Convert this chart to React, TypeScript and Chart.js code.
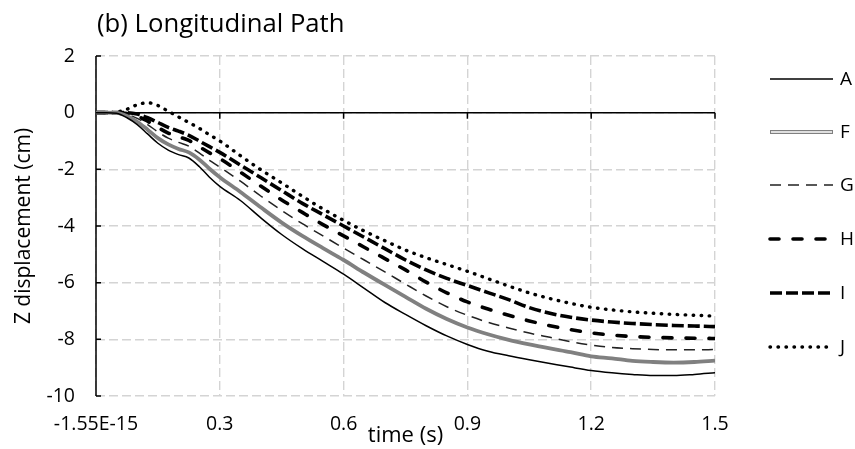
import React, { useEffect, useRef } from "react";
import { Chart, registerables } from "chart.js";

Chart.register(...registerables);

const times = [0, 0.025, 0.05, 0.075, 0.1, 0.125, 0.15, 0.175, 0.2, 0.225, 0.25, 0.275, 0.3, 0.35, 0.4, 0.45, 0.5, 0.55, 0.6, 0.65, 0.7, 0.75, 0.8, 0.85, 0.9, 0.95, 1.0, 1.05, 1.1, 1.15, 1.2, 1.25, 1.3, 1.35, 1.4, 1.45, 1.5];

const seriesA = [0, 0, -0.02, -0.18, -0.42, -0.75, -1.08, -1.32, -1.48, -1.6, -1.9, -2.28, -2.6, -3.1, -3.72, -4.3, -4.8, -5.25, -5.7, -6.2, -6.7, -7.12, -7.52, -7.88, -8.18, -8.42, -8.58, -8.72, -8.85, -8.98, -9.1, -9.18, -9.24, -9.28, -9.28, -9.24, -9.18];
const seriesF = [0, 0, -0.01, -0.12, -0.32, -0.6, -0.9, -1.12, -1.28, -1.4, -1.65, -1.98, -2.28, -2.8, -3.35, -3.88, -4.35, -4.78, -5.2, -5.65, -6.08, -6.5, -6.92, -7.28, -7.58, -7.82, -8.02, -8.18, -8.32, -8.45, -8.6, -8.67, -8.76, -8.8, -8.82, -8.8, -8.75];
const seriesG = [0, 0, 0, -0.06, -0.2, -0.42, -0.68, -0.9, -1.05, -1.18, -1.42, -1.68, -1.92, -2.42, -2.95, -3.45, -3.92, -4.35, -4.78, -5.2, -5.62, -6.05, -6.47, -6.85, -7.15, -7.4, -7.6, -7.78, -7.93, -8.08, -8.2, -8.29, -8.33, -8.36, -8.37, -8.37, -8.36];
const seriesH = [0, 0, 0, -0.03, -0.12, -0.3, -0.52, -0.72, -0.85, -0.98, -1.2, -1.42, -1.62, -2.1, -2.6, -3.08, -3.52, -3.95, -4.35, -4.75, -5.15, -5.55, -5.98, -6.36, -6.68, -6.93, -7.15, -7.35, -7.52, -7.66, -7.77, -7.85, -7.9, -7.93, -7.95, -7.96, -7.97];
const seriesI = [0, 0, 0, 0, -0.05, -0.18, -0.35, -0.52, -0.65, -0.8, -1.0, -1.2, -1.4, -1.85, -2.3, -2.75, -3.2, -3.6, -4.0, -4.4, -4.8, -5.2, -5.55, -5.85, -6.1, -6.35, -6.6, -6.88, -7.08, -7.22, -7.32, -7.39, -7.44, -7.48, -7.51, -7.53, -7.55];
const seriesJ = [0, 0, 0.02, 0.12, 0.28, 0.35, 0.25, 0.05, -0.15, -0.35, -0.55, -0.78, -1.0, -1.52, -2.02, -2.48, -2.95, -3.4, -3.8, -4.18, -4.52, -4.85, -5.12, -5.36, -5.6, -5.86, -6.12, -6.36, -6.56, -6.73, -6.87, -6.96, -7.03, -7.08, -7.12, -7.15, -7.18];

const seriesNames = ["A", "F", "G", "H", "I", "J"];
const seriesValues = [seriesA, seriesF, seriesG, seriesH, seriesI, seriesJ];

const xTickValues = [0, 0.3, 0.6, 0.9, 1.2, 1.5];
const xTickLabels = ["-1.55E-15", "0.3", "0.6", "0.9", "1.2", "1.5"];
const yTickValues = [2, 0, -2, -4, -6, -8, -10];

const chartTitle = "(b) Longitudinal Path";
const xTitle = "time (s)";
const yTitle = "Z displacement (cm)";

const FONT = '"Open Sans", sans-serif';

type Style = {
  color: string;
  width: number;
  dash: number[];
  cap: CanvasLineCap;
  inner?: { color: string; width: number };
};

const styles: Style[] = [
  { color: "#000000", width: 1.5, dash: [], cap: "butt" },
  { color: "#808080", width: 3.8, dash: [], cap: "butt", inner: { color: "#ffffff", width: 1.6 } },
  { color: "#222222", width: 1.5, dash: [11, 7], cap: "butt" },
  { color: "#000000", width: 3.6, dash: [9, 14], cap: "round" },
  { color: "#000000", width: 3.6, dash: [12, 4], cap: "butt" },
  { color: "#000000", width: 3.4, dash: [0.5, 7.5], cap: "round" },
];

const legendY = [79, 132, 185, 239, 293, 347];

function buildDatasets() {
  const ds: any[] = [];
  seriesNames.forEach((name, i) => {
    const st = styles[i];
    const data = times.map((t, k) => ({ x: t, y: seriesValues[i][k] }));
    ds.push({
      label: name,
      data,
      borderColor: st.color,
      borderWidth: st.width,
      borderDash: st.dash,
      borderCapStyle: st.cap,
      borderJoinStyle: "round",
      pointRadius: 0,
      fill: false,
      cubicInterpolationMode: "monotone",
    });
    if (st.inner) {
      ds.push({
        label: name + "_inner",
        data,
        borderColor: st.inner.color,
        borderWidth: st.inner.width,
        borderJoinStyle: "round",
        pointRadius: 0,
        fill: false,
        cubicInterpolationMode: "monotone",
      });
    }
  });
  return ds;
}

const decorPlugin = {
  id: "decor",
  beforeDatasetsDraw(chart: any) {
    const { ctx, chartArea, scales } = chart;
    const xs = scales.x;
    const ys = scales.y;
    const y0 = ys.getPixelForValue(0);
    ctx.save();
    ctx.strokeStyle = "#000";
    ctx.lineWidth = 1.5;
    ctx.setLineDash([]);
    ctx.beginPath();
    ctx.moveTo(chartArea.left, y0);
    ctx.lineTo(chartArea.right, y0);
    xTickValues.forEach((v) => {
      const px = xs.getPixelForValue(v);
      ctx.moveTo(px, y0);
      ctx.lineTo(px, y0 + 6);
    });
    ctx.moveTo(chartArea.left, chartArea.top);
    ctx.lineTo(chartArea.left, chartArea.bottom);
    yTickValues.forEach((v) => {
      const py = ys.getPixelForValue(v);
      ctx.moveTo(chartArea.left, py);
      ctx.lineTo(chartArea.left + 5, py);
    });
    ctx.stroke();
    ctx.restore();
  },
  afterDraw(chart: any) {
    const { ctx } = chart;
    ctx.save();
    ctx.fillStyle = "#000";
    ctx.font = `25.7px ${FONT}`;
    ctx.textBaseline = "alphabetic";
    ctx.textAlign = "left";
    ctx.fillText(chartTitle, 97, 32);

    const x1 = 770;
    const x2 = 833;
    seriesNames.forEach((name, i) => {
      const st = styles[i];
      const y = legendY[i];
      ctx.beginPath();
      ctx.strokeStyle = st.color;
      ctx.lineWidth = st.width;
      ctx.lineCap = st.cap;
      ctx.setLineDash(st.dash);
      ctx.moveTo(x1, y);
      ctx.lineTo(x2, y);
      ctx.stroke();
      if (st.inner) {
        ctx.beginPath();
        ctx.strokeStyle = st.inner.color;
        ctx.lineWidth = st.inner.width;
        ctx.setLineDash([]);
        ctx.moveTo(x1 + 1, y);
        ctx.lineTo(x2 - 1, y);
        ctx.stroke();
      }
      ctx.setLineDash([]);
      ctx.fillStyle = "#000";
      ctx.font = `19px ${FONT}`;
      ctx.textBaseline = "middle";
      ctx.fillText(name, 840, y + 1);
    });
    ctx.restore();
  },
};

export default function App() {
  const canvasRef = useRef<HTMLCanvasElement | null>(null);

  useEffect(() => {
    if (!canvasRef.current) return;
    const gridColor = "#d4d4d4";
    const chart = new Chart(canvasRef.current, {
      type: "line",
      data: { datasets: buildDatasets() },
      options: {
        responsive: false,
        maintainAspectRatio: false,
        animation: false,
        devicePixelRatio: 1,
        layout: { padding: { left: 0, top: 56, right: 140, bottom: 0 } },
        plugins: {
          legend: { display: false },
          tooltip: { enabled: false },
          title: { display: false },
        },
        scales: {
          x: {
            type: "linear",
            min: 0,
            max: 1.5,
            afterFit: (scale: any) => {
              scale.height = 53;
            },
            afterBuildTicks: (scale: any) => {
              scale.ticks = xTickValues.map((v) => ({ value: v }));
            },
            grid: { color: gridColor, lineWidth: 1.4, drawTicks: false },
            border: { display: false, dash: [9, 4] },
            ticks: {
              padding: 17,
              maxRotation: 0,
              autoSkip: false,
              color: "#000",
              font: { family: FONT, size: 19.5 },
              callback: (value: any) => {
                const idx = xTickValues.findIndex((v) => Math.abs(v - Number(value)) < 1e-9);
                return idx >= 0 ? xTickLabels[idx] : "";
              },
            },
            title: {
              display: true,
              text: xTitle,
              color: "#000",
              font: { family: FONT, size: 22 },
              padding: { top: 0, bottom: 0 },
            },
          },
          y: {
            type: "linear",
            min: -10,
            max: 2,
            afterFit: (scale: any) => {
              scale.width = 96;
            },
            afterBuildTicks: (scale: any) => {
              scale.ticks = yTickValues.map((v) => ({ value: v }));
            },
            grid: { color: gridColor, lineWidth: 1.4, drawTicks: false },
            border: { display: false, dash: [9, 4] },
            ticks: {
              padding: 21,
              autoSkip: false,
              color: "#000",
              font: { family: FONT, size: 19.5 },
              callback: (value: any) => String(value),
            },
            title: {
              display: true,
              text: yTitle,
              color: "#000",
              font: { family: FONT, size: 21 },
              padding: { top: 11, bottom: 0 },
            },
          },
        },
      },
      plugins: [decorPlugin],
    } as any);
    return () => chart.destroy();
  }, []);

  return (
    <div style={{ position: "fixed", left: 0, top: 0, width: 855, height: 449, background: "#fff" }}>
      <canvas ref={canvasRef} width={855} height={449} style={{ display: "block", width: 855, height: 449 }} />
    </div>
  );
}
